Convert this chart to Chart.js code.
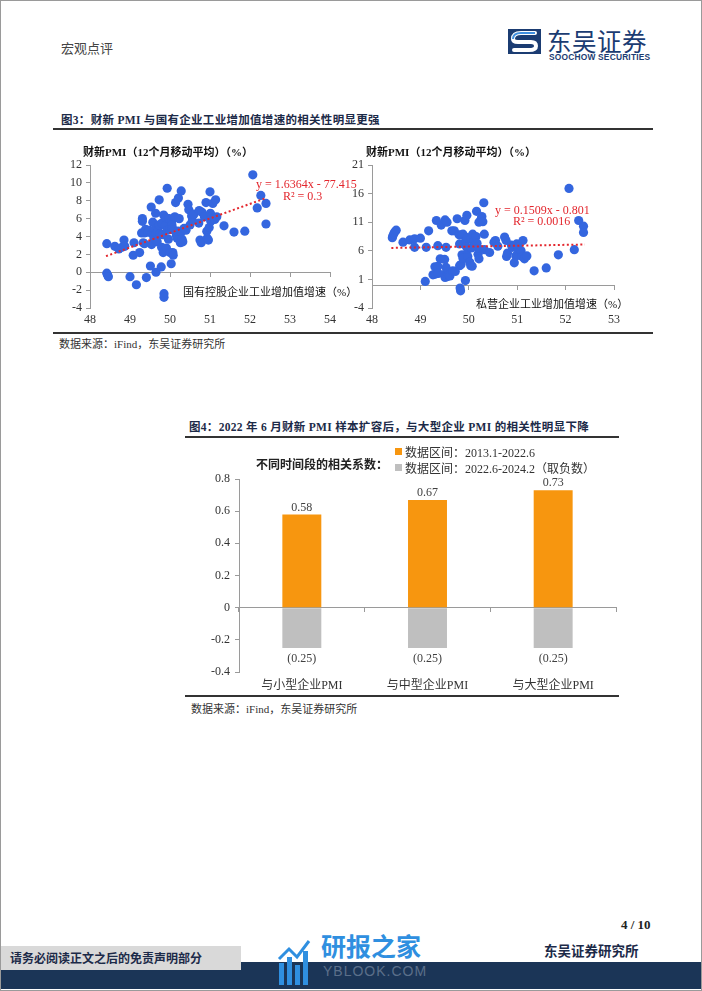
<!DOCTYPE html>
<html>
<head>
<meta charset="utf-8">
<script src="https://cdn.jsdelivr.net/npm/chart.js@4.4.1/dist/chart.umd.min.js"></script>
<style>
  html, body { margin: 0; padding: 0; background: #fff; }
  #page { position: relative; width: 700px; height: 989px; border: 1px solid #9a9a9a; overflow: hidden;
          font-family: 'Liberation Serif', 'Noto Sans CJK SC', serif; color: #222; }
  .abs { position: absolute; white-space: nowrap; }
  .rule { position: absolute; background: #333; }
  .figtitle { font-weight: bold; font-size: 11.5px; color: #1c2a48; letter-spacing: 0.3px; }
  .axtitle { font-size: 11px; color: #111; }
  .axtitle.b { font-weight: bold; }
  .eq { font-size: 12px; color: #e3262d; line-height: 12px; }
  .src { font-size: 11px; color: #333; }
  canvas { position: absolute; }
</style>
</head>
<body>
<div id="page">
  <!-- header -->
  <div class="abs" style="left:60px;top:37px;font-size:13px;color:#444;">宏观点评</div>
  <svg class="abs" style="left:507px;top:28px;" width="33" height="25" viewBox="0 0 33 25">
    <rect width="33" height="25" fill="#1b3c72"/>
    <path d="M27 4 L13 4 Q5 4 5 10 Q5 13 10 13 L23 13 Q28 13 28 17 Q28 21 21 21 L6 21" fill="none" stroke="#fff" stroke-width="4" stroke-linecap="round"/>
    <path d="M27 4 L13 4 Q5 4 5 10" fill="none" stroke="#3f8fe0" stroke-width="2"/>
  </svg>
  <div class="abs" style="left:546px;top:22px;font-size:24.5px;color:#1b3c72;font-family:'Noto Sans CJK SC';letter-spacing:0.5px;">东吴证券</div>
  <div class="abs" style="left:548px;top:51px;font-size:8.4px;font-weight:bold;color:#1b3c72;font-family:'Liberation Sans';letter-spacing:0.2px;">SOOCHOW SECURITIES</div>

  <!-- figure 3 -->
  <div class="abs figtitle" style="left:60px;top:110px;">图3：财新 PMI 与国有企业工业增加值增速的相关性明显更强</div>
  <div class="rule" style="left:52px;top:127px;width:600px;height:2px;"></div>

  <canvas id="leftChart" width="298" height="178" style="left:52px;top:150px;"></canvas>
  <canvas id="rightChart" width="300" height="178" style="left:350px;top:150px;"></canvas>

  <div class="abs axtitle b" style="left:82px;top:142px;">财新PMI（12个月移动平均）（%）</div>
  <div class="abs axtitle" style="left:182px;top:282px;">国有控股企业工业增加值增速（%）</div>
  <div class="abs eq" style="left:255px;top:177px;">y = 1.6364x - 77.415</div>
  <div class="abs eq" style="left:282px;top:189px;">R² = 0.3</div>

  <div class="abs axtitle b" style="left:365px;top:142px;">财新PMI（12个月移动平均）（%）</div>
  <div class="abs axtitle" style="left:475px;top:294px;">私营企业工业增加值增速（%）</div>
  <div class="abs eq" style="left:494px;top:203px;">y = 0.1509x - 0.801</div>
  <div class="abs eq" style="left:512px;top:214px;">R² = 0.0016</div>

  <div class="rule" style="left:52px;top:331px;width:600px;height:2px;"></div>
  <div class="abs src" style="left:58px;top:334px;">数据来源：iFind，东吴证券研究所</div>

  <!-- figure 4 -->
  <div class="abs figtitle" style="left:188px;top:417px;">图4：2022 年 6 月财新 PMI 样本扩容后，与大型企业 PMI 的相关性明显下降</div>
  <div class="rule" style="left:184px;top:435px;width:434px;height:2px;"></div>

  <canvas id="barChart" width="434" height="252" style="left:184px;top:440px;"></canvas>

  <div class="abs" style="left:255px;top:454px;font-size:12px;font-weight:bold;font-family:'Noto Sans CJK SC';">不同时间段的相关系数：</div>
  <div class="abs" style="left:394px;top:447px;width:7px;height:7px;background:#f7960f;"></div>
  <div class="abs" style="left:404px;top:442px;font-size:12px;color:#333;">数据区间：2013.1-2022.6</div>
  <div class="abs" style="left:394px;top:463px;width:7px;height:7px;background:#bfbfbf;"></div>
  <div class="abs" style="left:404px;top:458px;font-size:12px;color:#333;">数据区间：2022.6-2024.2（取负数）</div>

  <div class="rule" style="left:184px;top:694px;width:434px;height:2px;"></div>
  <div class="abs src" style="left:190px;top:699px;">数据来源：iFind，东吴证券研究所</div>

  <!-- footer -->
  <div class="abs" style="left:620px;top:916px;font-size:13px;font-weight:bold;">4 / 10</div>
  <div class="abs" style="left:543px;top:939px;font-size:13.5px;font-weight:bold;color:#1c2a48;font-family:'Noto Sans CJK SC';">东吴证券研究所</div>
  <div class="abs" style="left:0;top:961px;width:700px;height:27px;background:#1b3557;"></div>
  <div class="abs" style="left:0;top:945px;width:240px;height:24px;background:#d9d9d9;"></div>
  <div class="abs" style="left:9px;top:948px;font-size:12px;font-weight:bold;color:#1c2a48;font-family:'Noto Sans CJK SC';">请务必阅读正文之后的免责声明部分</div>
  <svg class="abs" style="left:276px;top:936px;" width="36" height="50" viewBox="0 0 36 50">
    <rect x="2" y="26" width="5" height="22" fill="#2f8fe0"/>
    <rect x="10" y="20" width="5" height="28" fill="#2f8fe0"/>
    <rect x="18" y="28" width="5" height="20" fill="#2f8fe0"/>
    <rect x="26" y="14" width="5" height="34" fill="#2f8fe0"/>
    <path d="M2 22 L12 12 L20 20 L32 4" fill="none" stroke="#2f8fe0" stroke-width="3"/>
  </svg>
  <div class="abs" style="left:320px;top:926px;font-size:25px;font-weight:bold;color:#2f8fe0;font-family:'Noto Sans CJK SC';">研报之家</div>
  <div class="abs" style="left:322px;top:962px;font-size:14px;color:#5b6f8a;font-family:'Liberation Sans';letter-spacing:1px;">YBLOOK.COM</div>
</div>

<script>
// 左图：财新PMI(12个月移动平均) vs 国有控股企业工业增加值增速
const leftPoints = [
  [48.42, 3.2], [48.42, -0.1], [48.44, -0.3], [48.46, -0.5], [48.62, 2.9], [48.72, 2.6],
  [48.8, 2.8], [48.85, 3.6], [48.87, 2.9], [49.0, -0.5], [49.08, 1.9], [49.1, 3.3],
  [49.16, -1.4], [49.24, 2.2], [49.29, 4.4], [49.31, 6.0], [49.31, 5.7], [49.33, 3.3],
  [49.36, 3.2], [49.36, 4.4], [49.39, 4.8], [49.41, -0.6], [49.45, 4.5], [49.48, 4.7],
  [49.51, 0.7], [49.53, 7.3], [49.54, 3.1], [49.55, 4.3], [49.57, 5.6], [49.6, 3.8],
  [49.62, 4.8], [49.64, 6.6], [49.65, 0.0], [49.66, 4.3], [49.68, 3.4], [49.7, 4.6],
  [49.73, 8.1], [49.73, 5.3], [49.75, 4.3], [49.78, 0.6], [49.79, 2.8], [49.8, 5.5],
  [49.81, 4.2], [49.83, 2.2], [49.84, 6.4], [49.85, -2.4], [49.85, -2.8], [49.88, 5.2],
  [49.9, 6.1], [49.91, 2.7], [49.93, 9.4], [49.93, 4.7], [49.96, 3.7], [49.98, 6.0],
  [49.99, 4.8], [50.0, 2.2], [50.03, 0.95], [50.04, 5.7], [50.05, 5.3], [50.06, 4.9],
  [50.07, 2.2], [50.08, 1.9], [50.1, 4.7], [50.12, 6.2], [50.14, 7.8], [50.16, 4.1],
  [50.18, 3.8], [50.2, 4.6], [50.21, 8.3], [50.23, 6.0], [50.26, 3.3], [50.28, 9.1],
  [50.28, 4.5], [50.3, 3.7], [50.32, 3.4], [50.35, 4.9], [50.4, 4.7], [50.45, 7.6],
  [50.47, 7.0], [50.5, 5.3], [50.54, 6.3], [50.56, 5.8], [50.6, 6.5], [50.72, 5.5],
  [50.73, 6.9], [50.75, 3.6], [50.78, 3.3], [50.8, 6.7], [50.86, 6.2], [50.9, 7.8],
  [50.92, 4.6], [50.93, 3.8], [50.96, 3.6], [50.98, 5.0], [51.0, 9.0], [51.01, 6.6],
  [51.02, 5.7], [51.04, 6.3], [51.07, 7.7], [51.1, 6.1], [51.12, 5.9], [51.14, 8.1],
  [51.17, 6.2], [51.35, 5.2], [51.6, 4.5], [51.87, 4.6], [52.07, 10.9], [52.18, 7.2],
  [52.27, 8.6], [52.4, 7.7], [52.4, 5.4]
];
const leftTrend = [[48.4, 1.8], [52.4, 8.3]];
const leftXTicks = [48, 49, 50, 51, 52, 53, 54];
const leftYTicks = [-4, -2, 0, 2, 4, 6, 8, 10, 12];

// 右图：财新PMI(12个月移动平均) vs 私营企业工业增加值增速
const rightPoints = [
  [48.42, 8.3], [48.43, 8.6], [48.45, 9.0], [48.47, 9.3], [48.5, 9.6], [48.64, 7.5],
  [48.78, 7.9], [48.88, 8.1], [49.0, 8.2], [48.88, 6.6], [49.12, 6.6], [49.17, 9.5],
  [49.1, 0.65], [49.26, 1.8], [49.3, 3.2], [49.3, 1.9], [49.33, 11.3], [49.36, 6.9],
  [49.36, 3.3], [49.37, 2.05], [49.41, 4.6], [49.43, 10.5], [49.5, 4.5], [49.5, 1.9],
  [49.51, 11.4], [49.55, 11.0], [49.53, 6.6], [49.53, 3.1], [49.51, 1.35], [49.56, 1.5],
  [49.59, 1.8], [49.61, 1.6], [49.65, 9.5], [49.67, 2.5], [49.7, 9.5], [49.72, 2.4],
  [49.76, 11.6], [49.8, 8.8], [49.81, 7.2], [49.81, 3.4], [49.84, 3.6], [49.82, -0.5],
  [49.83, -1.0], [49.85, 8.8], [49.86, 5.3], [49.88, 8.9], [49.88, 4.7], [49.92, 11.3],
  [49.93, 0.8], [49.94, 7.8], [49.95, 6.7], [49.96, 12.2], [49.97, 8.3], [49.98, 5.0],
  [49.98, 6.3], [50.02, 4.0], [50.04, 3.4], [50.05, 8.1], [50.05, 6.5], [50.07, 3.3],
  [50.08, 8.9], [50.1, 7.6], [50.12, 6.9], [50.15, 8.5], [50.16, 12.9], [50.17, 7.3],
  [50.19, 5.4], [50.2, 6.4], [50.21, 4.6], [50.21, 11.0], [50.26, 11.7], [50.27, 12.0],
  [50.29, 11.1], [50.31, 14.4], [50.32, 8.9], [50.32, 6.2], [50.43, 5.7], [50.52, 7.5],
  [50.55, 7.8], [50.6, 6.8], [50.74, 8.4], [50.77, 7.8], [50.78, 5.0], [50.8, 5.6],
  [50.88, 7.0], [50.9, 6.6], [50.94, 3.9], [50.97, 5.1], [50.99, 7.2], [51.01, 6.3],
  [51.02, 6.7], [51.08, 6.0], [51.1, 5.0], [51.12, 7.8], [51.15, 4.6], [51.2, 5.1],
  [51.35, 2.5], [51.6, 3.0], [51.85, 5.3], [52.07, 16.9], [52.18, 6.2], [52.27, 11.3],
  [52.37, 10.3], [52.37, 9.2]
];
const rightTrend = [[48.4, 6.5], [52.4, 7.1]];
const rightXTicks = [48, 49, 50, 51, 52, 53];
const rightYTicks = [-4, 1, 6, 11, 16, 21];

// 图4：相关系数
const barCategories = ["与小型企业PMI", "与中型企业PMI", "与大型企业PMI"];
const corrBefore = [0.58, 0.67, 0.73];     // 2013.1-2022.6
const corrAfter = [-0.25, -0.25, -0.25];   // 2022.6-2024.2（取负数）
const barYTicks = [-0.4, -0.2, 0, 0.2, 0.4, 0.6, 0.8];

const tickFont = { family: "'Liberation Serif', 'Noto Sans CJK SC'", size: 12 };
const tickColor = "#333";
const axisGray = "#9a9a9a";
const dotBlue = "#3466df";
const trendRed = "#e3262d";

function fixedTicks(list) {
    return (scale) => { scale.ticks = list.map((v) => ({ value: v })); };
}

function scatterChart(id, points, trend, xTicks, yTicks, yAxisWidth, padRight) {
    const ctx = document.getElementById(id).getContext("2d");
    const xMin = xTicks[0], xMax = xTicks[xTicks.length - 1];
    return new Chart(ctx, {
        type: "scatter",
        data: {
            datasets: [
                {
                    data: trend.map((p) => ({ x: p[0], y: p[1] })),
                    showLine: true,
                    borderColor: trendRed,
                    borderWidth: 2,
                    borderDash: [2, 2.5],
                    pointRadius: 0,
                    order: 0,
                },
                {
                    data: points.map((p) => ({ x: p[0], y: p[1] })),
                    backgroundColor: dotBlue,
                    borderWidth: 0,
                    pointRadius: 4.6,
                    order: 1,
                },
            ],
        },
        options: {
            responsive: false,
            animation: false,
            layout: { padding: { top: 14, right: padRight, left: 0, bottom: 0 } },
            plugins: { legend: { display: false }, tooltip: { enabled: false } },
            scales: {
                x: {
                    type: "linear",
                    min: xMin,
                    max: xMax,
                    position: "bottom",
                    border: { display: false },
                    grid: { display: false, drawTicks: false, tickLength: 0 },
                    ticks: { font: tickFont, color: tickColor, padding: 5 },
                    afterBuildTicks: fixedTicks(xTicks),
                    afterFit: (s) => { s.height = 21; },
                },
                x0: {
                    type: "linear",
                    axis: "x",
                    min: xMin,
                    max: xMax,
                    position: { y: 0 },
                    border: { color: axisGray },
                    grid: { drawOnChartArea: false, tickLength: 4, color: axisGray },
                    ticks: { display: false },
                    afterBuildTicks: fixedTicks(xTicks),
                },
                y: {
                    min: yTicks[0],
                    max: yTicks[yTicks.length - 1],
                    border: { color: axisGray },
                    grid: { drawOnChartArea: false, tickLength: 4, color: axisGray },
                    ticks: { font: tickFont, color: tickColor, padding: 4 },
                    afterBuildTicks: fixedTicks(yTicks),
                    afterFit: (s) => { s.width = yAxisWidth; },
                },
            },
        },
    });
}

scatterChart("leftChart", leftPoints, leftTrend, leftXTicks, leftYTicks, 37, 21);
scatterChart("rightChart", rightPoints, rightTrend, rightXTicks, rightYTicks, 21, 37);

// 柱顶 / 柱底数值标签
const barLabels = {
    id: "barLabels",
    afterDatasetsDraw(chart) {
        const ctx = chart.ctx;
        ctx.save();
        ctx.font = "12px 'Liberation Serif'";
        ctx.fillStyle = "#404040";
        ctx.textAlign = "center";
        chart.data.datasets.forEach((ds, i) => {
            chart.getDatasetMeta(i).data.forEach((el, j) => {
                const v = ds.data[j];
                if (v >= 0) {
                    ctx.textBaseline = "bottom";
                    ctx.fillText(v.toFixed(2), el.x, el.y - 1);
                } else {
                    ctx.textBaseline = "middle";
                    ctx.fillText("(" + Math.abs(v).toFixed(2) + ")", el.x, el.y + 11);
                }
            });
        });
        ctx.restore();
    },
};

new Chart(document.getElementById("barChart").getContext("2d"), {
    type: "bar",
    data: {
        labels: barCategories,
        datasets: [
            { label: "数据区间：2013.1-2022.6", data: corrBefore, backgroundColor: "#f7960f" },
            { label: "数据区间：2022.6-2024.2（取负数）", data: corrAfter, backgroundColor: "#bfbfbf" },
        ],
    },
    options: {
        responsive: false,
        animation: false,
        categoryPercentage: 1,
        barPercentage: 0.31,
        layout: { padding: { top: 38, right: 3, left: 0, bottom: 0 } },
        plugins: { legend: { display: false }, tooltip: { enabled: false } },
        scales: {
            x: {
                stacked: true,
                position: "bottom",
                border: { display: false },
                grid: { display: false, drawTicks: false, tickLength: 0 },
                ticks: { font: { family: "'Liberation Serif', 'Noto Sans CJK SC'", size: 12 }, color: tickColor, padding: 7 },
                afterFit: (s) => { s.height = 21; },
            },
            x0: {
                type: "category",
                axis: "x",
                position: { y: 0 },
                border: { color: axisGray },
                grid: { drawOnChartArea: false, offset: true, tickLength: 4, color: axisGray },
                ticks: { display: false },
            },
            y: {
                stacked: true,
                min: barYTicks[0],
                max: barYTicks[barYTicks.length - 1],
                border: { color: axisGray },
                grid: { drawOnChartArea: false, tickLength: 4, color: axisGray },
                ticks: {
                    font: tickFont,
                    color: tickColor,
                    padding: 5,
                    callback: (v) => (v === 0 ? "0" : Number(v).toFixed(1)),
                },
                afterBuildTicks: fixedTicks(barYTicks),
                afterFit: (s) => { s.width = 54; },
            },
        },
    },
    plugins: [barLabels],
});
</script>
</body>
</html>
